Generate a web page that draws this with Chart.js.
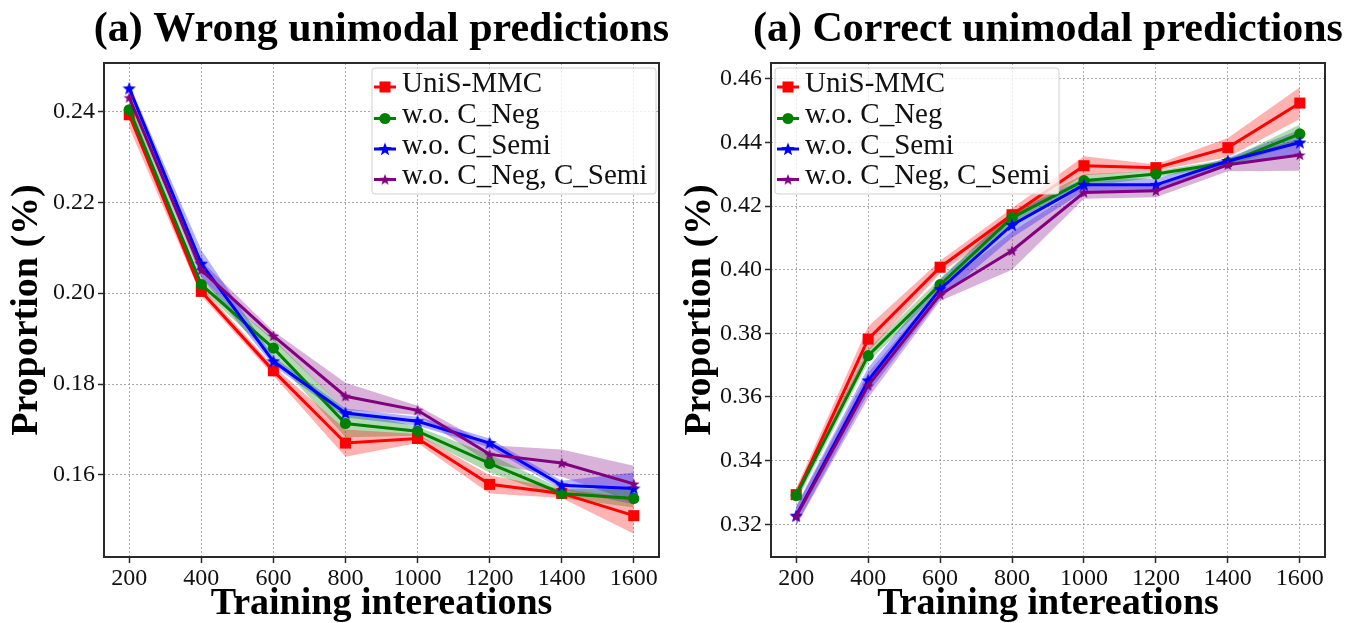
<!DOCTYPE html>
<html><head><meta charset="utf-8">
<script src="https://cdn.jsdelivr.net/npm/chart.js@4.4.1/dist/chart.umd.min.js"></script>
<style>
html,body{margin:0;padding:0;background:#fff;width:1345px;height:623px;overflow:hidden;}
#c1{position:absolute;left:0;top:0;}
#c2{position:absolute;left:672px;top:0;}
</style></head><body>
<canvas id="c1" width="672" height="623"></canvas>
<canvas id="c2" width="673" height="623"></canvas>
<script>
// ---------- data ----------
const iterations = [200, 400, 600, 800, 1000, 1200, 1400, 1600];
const seriesNames = ['UniS-MMC', 'w.o. C_Neg', 'w.o. C_Semi', 'w.o. C_Neg, C_Semi'];
const titles = ['(a) Wrong unimodal predictions', '(a) Correct unimodal predictions'];
const xTitle = 'Training intereations';
const yTitle = 'Proportion (%)';

// Wrong unimodal predictions (means)
const wrongUnis   = [0.2393, 0.2004, 0.1829, 0.1670, 0.1680, 0.1579, 0.1559, 0.1510];
const wrongNoNeg  = [0.2404, 0.2019, 0.1879, 0.1713, 0.1696, 0.1625, 0.1559, 0.1548];
const wrongNoSemi = [0.2451, 0.2065, 0.1850, 0.1736, 0.1718, 0.1670, 0.1577, 0.1570];
const wrongNoBoth = [0.2431, 0.2051, 0.1906, 0.1773, 0.1742, 0.1645, 0.1626, 0.1580];
// Wrong: shaded spread (std)
const wrongUnisStd   = [0.0028, 0.0010, 0.0010, 0.0030, 0.0010, 0.0020, 0.0010, 0.0040];
const wrongNoNegStd  = [0.0020, 0.0010, 0.0020, 0.0030, 0.0010, 0.0020, 0.0010, 0.0020];
const wrongNoSemiStd = [0.0010, 0.0030, 0.0010, 0.0010, 0.0010, 0.0010, 0.0010, 0.0035];
const wrongNoBothStd = [0.0010, 0.0020, 0.0010, 0.0030, 0.0010, 0.0020, 0.0030, 0.0040];

// Correct unimodal predictions (means)
const corrUnis   = [0.3293, 0.3782, 0.4008, 0.4173, 0.4327, 0.4321, 0.4384, 0.4524];
const corrNoNeg  = [0.3290, 0.3730, 0.3953, 0.4164, 0.4280, 0.4301, 0.4337, 0.4427];
const corrNoSemi = [0.3227, 0.3652, 0.3939, 0.4141, 0.4267, 0.4267, 0.4342, 0.4400];
const corrNoBoth = [0.3225, 0.3636, 0.3922, 0.4060, 0.4243, 0.4248, 0.4330, 0.4361];
// Correct: shaded spread (std)
const corrUnisStd   = [0.0020, 0.0040, 0.0020, 0.0020, 0.0030, 0.0010, 0.0030, 0.0050];
const corrNoNegStd  = [0.0020, 0.0020, 0.0020, 0.0020, 0.0020, 0.0010, 0.0010, 0.0030];
const corrNoSemiStd = [0.0030, 0.0040, 0.0030, 0.0040, 0.0020, 0.0020, 0.0010, 0.0040];
const corrNoBothStd = [0.0030, 0.0040, 0.0020, 0.0060, 0.0020, 0.0020, 0.0020, 0.0050];

// tick values
const xTicks = [200, 400, 600, 800, 1000, 1200, 1400, 1600];
const wrongYTicks = [0.16, 0.18, 0.20, 0.22, 0.24];
const corrYTicks = [0.32, 0.34, 0.36, 0.38, 0.40, 0.42, 0.44, 0.46];

// ---------- style ----------
const FONT = "'Liberation Serif', 'Times New Roman', serif";
const lineColors = ['#ff0000', '#008000', '#0000ff', '#800080'];
const bandColors = ['rgba(255,0,0,0.3)', 'rgba(0,128,0,0.3)', 'rgba(0,0,255,0.3)', 'rgba(128,0,128,0.3)'];

function starCanvas(color, size) {
  const c = document.createElement('canvas');
  c.width = size; c.height = size;
  const g = c.getContext('2d');
  const cx = size / 2, cy = size / 2 + 0.5, R = size / 2, r = R * 0.42;
  g.beginPath();
  for (let i = 0; i < 10; i++) {
    const a = -Math.PI / 2 + i * Math.PI / 5;
    const rr = i % 2 ? r : R;
    g.lineTo(cx + rr * Math.cos(a), cy + rr * Math.sin(a));
  }
  g.closePath();
  g.fillStyle = color;
  g.fill();
  return c;
}
const markers = ['rect', 'circle', starCanvas('#0000ff', 14), starCanvas('#800080', 12)];
const markerRadius = [7.8, 5.6, 6, 6];

function buildDatasets(means, stds) {
  const ds = [];
  means.forEach((m, k) => {
    ds.push({
      label: '_lo' + k, data: iterations.map((x, i) => ({x, y: m[i] - stds[k][i]})),
      borderWidth: 0, borderColor: 'transparent', pointRadius: 0, fill: false, order: 100 + k
    });
    ds.push({
      label: '_hi' + k, data: iterations.map((x, i) => ({x, y: m[i] + stds[k][i]})),
      borderWidth: 0, borderColor: 'transparent', pointRadius: 0, fill: '-1',
      backgroundColor: bandColors[k], order: 100 + k
    });
  });
  means.forEach((m, k) => {
    ds.push({
      label: seriesNames[k], data: iterations.map((x, i) => ({x, y: m[i]})),
      borderColor: lineColors[k], backgroundColor: lineColors[k],
      pointBackgroundColor: lineColors[k], pointBorderColor: lineColors[k], pointBorderWidth: 0,
      borderWidth: 3, pointStyle: markers[k], pointRadius: markerRadius[k],
      fill: false, tension: 0, order: 10 - k
    });
  });
  return ds;
}

const framePlugin = {
  id: 'frame',
  afterDraw(chart, args, opts) {
    const {ctx, chartArea: a} = chart;
    ctx.save();
    ctx.strokeStyle = '#2a2a2a';
    ctx.lineWidth = 2;
    ctx.strokeRect(a.left, a.top, a.right - a.left, a.bottom - a.top);
    // title centred over the plot area (not squeezed to its width)
    ctx.fillStyle = '#000';
    ctx.font = 'bold 42px ' + FONT;
    ctx.textAlign = 'center';
    ctx.textBaseline = 'middle';
    ctx.fillText(opts.text, (a.left + a.right) / 2, 30);
    ctx.restore();
  }
};

const boxLegend = {
  id: 'boxLegend',
  afterDatasetsDraw(chart, args, opts) {
    const {ctx, chartArea: a} = chart;
    const w = 284, h = 126;
    const x0 = opts.side === 'right' ? a.right - 3 - w : a.left + 4;
    const y0 = a.top + 5;
    ctx.save();
    ctx.beginPath();
    if (ctx.roundRect) ctx.roundRect(x0, y0, w, h, 3); else ctx.rect(x0, y0, w, h);
    ctx.fillStyle = 'rgba(255,255,255,0.8)';
    ctx.fill();
    ctx.strokeStyle = '#d0d0d0';
    ctx.lineWidth = 1;
    ctx.stroke();
    const rowY = [16, 47.5, 78, 108.5];
    seriesNames.forEach((name, k) => {
      const cy = y0 + rowY[k];
      const my = cy + 3;
      ctx.strokeStyle = lineColors[k];
      ctx.lineWidth = 3;
      ctx.beginPath(); ctx.moveTo(x0 + 2, my); ctx.lineTo(x0 + 24, my); ctx.stroke();
      const mx = x0 + 13;
      ctx.fillStyle = lineColors[k];
      const mk = markers[k];
      if (mk === 'rect') ctx.fillRect(mx - 5.5, my - 5.5, 11, 11);
      else if (mk === 'circle') { ctx.beginPath(); ctx.arc(mx, my, 5.6, 0, Math.PI * 2); ctx.fill(); }
      else ctx.drawImage(mk, mx - mk.width / 2, my - mk.height / 2);
      ctx.fillStyle = '#111';
      ctx.font = '29px ' + FONT;
      ctx.textBaseline = 'middle';
      ctx.textAlign = 'left';
      ctx.fillText(name, x0 + 30, cy);
    });
    ctx.restore();
  }
};

function makeChart(id, title, means, stds, yMin, yMax, yTicks, yWidth, padRight, yTitlePad, legendSide) {
  return new Chart(document.getElementById(id), {
    type: 'line',
    data: {datasets: buildDatasets(means, stds)},
    plugins: [framePlugin, boxLegend],
    options: {
      responsive: false, animation: false, devicePixelRatio: 1,
      layout: {padding: {left: 0, right: padRight, top: 63, bottom: 0}},
      plugins: {
        legend: {display: false}, tooltip: {enabled: false}, title: {display: false},
        frame: {text: title},
        boxLegend: {side: legendSide}
      },
      scales: {
        x: {
          type: 'linear', min: 130, max: 1670,
          afterBuildTicks: s => { s.ticks = xTicks.map(v => ({value: v})); },
          afterFit: s => { s.height = 66; },
          ticks: {autoSkip: false, maxRotation: 0, padding: 1, color: '#111',
            font: {family: FONT, size: 24}, callback: v => String(v)},
          grid: {color: 'rgba(140,140,140,0.75)', lineWidth: 1, drawTicks: true, tickLength: 6,
            tickColor: '#2a2a2a', tickWidth: 1.5},
          border: {display: false, dash: [2, 2]},
          title: {display: true, text: xTitle, color: '#000',
            font: {family: FONT, size: 38, weight: 'bold', lineHeight: 1}, padding: {top: 0, bottom: 0}}
        },
        y: {
          type: 'linear', min: yMin, max: yMax,
          afterBuildTicks: s => { s.ticks = yTicks.map(v => ({value: v})); },
          afterFit: s => { s.width = yWidth; },
          ticks: {autoSkip: false, padding: 3, color: '#111',
            font: {family: FONT, size: 24}, callback: v => Number(v).toFixed(2)},
          grid: {color: 'rgba(140,140,140,0.75)', lineWidth: 1, drawTicks: true, tickLength: 6,
            tickColor: '#2a2a2a', tickWidth: 1.5},
          border: {display: false, dash: [2, 2]},
          title: {display: true, text: yTitle, color: '#000',
            font: {family: FONT, size: 38, weight: 'bold', lineHeight: 1}, padding: {top: yTitlePad, bottom: 0}}
        }
      }
    }
  });
}

makeChart('c1', titles[0], [wrongUnis, wrongNoNeg, wrongNoSemi, wrongNoBoth],
  [wrongUnisStd, wrongNoNegStd, wrongNoSemiStd, wrongNoBothStd],
  0.1419, 0.2507, wrongYTicks, 104, 13, 8, 'right');
makeChart('c2', titles[1], [corrUnis, corrNoNeg, corrNoSemi, corrNoBoth],
  [corrUnisStd, corrNoNegStd, corrNoSemiStd, corrNoBothStd],
  0.3097, 0.4650, corrYTicks, 99, 20, 9, 'left');
</script>
</body></html>
